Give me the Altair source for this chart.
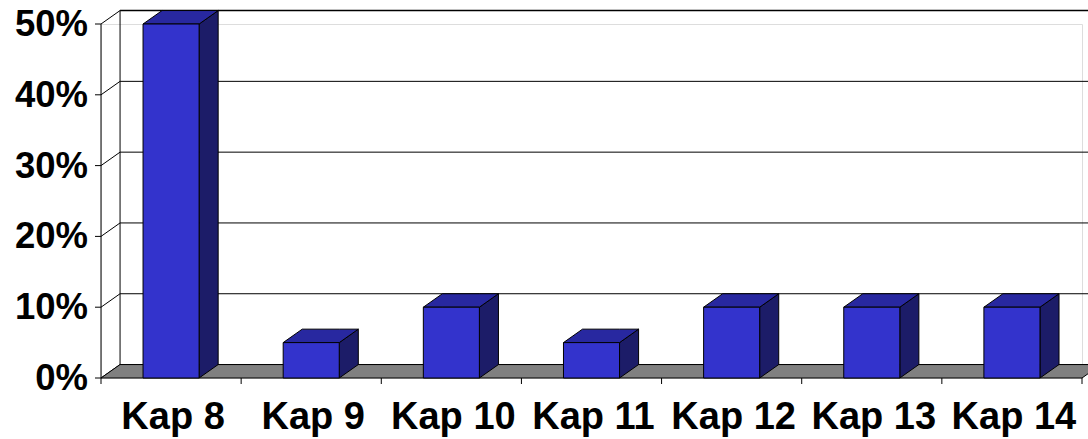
import altair as alt
import pandas as pd

# Chapter shares (percent of answers)
categories = ["Kap 8", "Kap 9", "Kap 10", "Kap 11", "Kap 12", "Kap 13", "Kap 14"]
values = [50, 5, 10, 5, 10, 10, 10]
y_ticks = [0, 10, 20, 30, 40, 50]
y_labels = ["0%", "10%", "20%", "30%", "40%", "50%"]

# 3D look: depth offset of the back plane, in data units
DX = 0.136   # category units
DY = 1.9     # percent units
BAR_LO, BAR_HI = 0.3, 0.7   # bar front face inside each category slot
N = len(categories)
Y_MAX = 50

FRONT = "#3333cc"
TOP = "#2828a0"
SIDE = "#1c1c68"
FLOOR = "#808080"
FONT = "Liberation Sans"

xs = alt.Scale(domain=[0, N], nice=False, zero=False)
ys = alt.Scale(domain=[0, Y_MAX], nice=False, zero=True)


def X(field):
    return alt.X(field, scale=xs, axis=None)


def Y(field):
    return alt.Y(field, scale=ys, axis=None, stack=None)


# ---- back wall gridlines and left wall lines
grid = pd.DataFrame({"y": [t + DY for t in y_ticks], "x": DX, "x2": N + DX,
                     "w": [1.5 if t == Y_MAX else 1 for t in y_ticks]})
back_lines = alt.Chart(grid).mark_rule(color="black").encode(
    x=X("x:Q"), x2="x2:Q", y=Y("y:Q"),
    strokeWidth=alt.StrokeWidth("w:Q", scale=None, legend=None),
)
diag = pd.DataFrame({"x": 0.0, "x2": DX, "y": y_ticks, "y2": [t + DY for t in y_ticks]})
side_lines = alt.Chart(diag).mark_rule(color="black", strokeWidth=1).encode(
    x=X("x:Q"), x2="x2:Q", y=Y("y:Q"), y2="y2:Q",
)
walls = pd.DataFrame({"x": [DX, 0.0], "y": [DY, 0.0], "y2": [Y_MAX + DY, Y_MAX]})
wall_lines = alt.Chart(walls).mark_rule(color="black", strokeWidth=1).encode(
    x=X("x:Q"), y=Y("y:Q"), y2="y2:Q",
)

# ---- floor parallelogram
floor = pd.DataFrame({
    "x": [0, DX, N, N + DX],
    "lo": [0, 0, 0, DY],
    "hi": [0, DY, DY, DY],
})
floor_area = alt.Chart(floor).mark_area(
    color=FLOOR, stroke="black", strokeWidth=1, interpolate="linear", orient="vertical"
).encode(x=X("x:Q"), y=Y("lo:Q"), y2="hi:Q")

# ---- tick marks on the front edges
yt = alt.Chart(pd.DataFrame({"x": 0.0, "y": y_ticks})).mark_rule(
    color="black", strokeWidth=1, x2Offset=-6
).encode(x=X("x:Q"), x2="x:Q", y=Y("y:Q"))
xt = alt.Chart(pd.DataFrame({"x": list(range(N + 1)), "y": 0.0})).mark_rule(
    color="black", strokeWidth=1, y2Offset=6
).encode(x=X("x:Q"), y=Y("y:Q"), y2="y:Q")

# ---- bar faces
fronts, tops, sides = [], [], []
for i, (c, v) in enumerate(zip(categories, values)):
    x0, x1 = i + BAR_LO, i + BAR_HI
    fronts.append({"cat": c, "x0": x0, "x1": x1, "v": v})
    for x, lo, hi in [
        (x0, v, v), (x0 + DX, v, v + DY), (x1, v, v + DY), (x1 + DX, v + DY, v + DY)
    ]:
        tops.append({"cat": c, "x": x, "lo": lo, "hi": hi})
    for x, lo, hi in [(x1, 0, v), (x1 + DX, DY, v + DY)]:
        sides.append({"cat": c, "x": x, "lo": lo, "hi": hi})

side_faces = alt.Chart(pd.DataFrame(sides)).mark_area(
    color=SIDE, stroke="black", strokeWidth=1, interpolate="linear", orient="vertical"
).encode(x=X("x:Q"), y=Y("lo:Q"), y2="hi:Q", detail="cat:N")
top_faces = alt.Chart(pd.DataFrame(tops)).mark_area(
    color=TOP, stroke="black", strokeWidth=1, interpolate="linear", orient="vertical"
).encode(x=X("x:Q"), y=Y("lo:Q"), y2="hi:Q", detail="cat:N")
front_faces = alt.Chart(pd.DataFrame(fronts)).mark_bar(
    color=FRONT, stroke="black", strokeWidth=1
).encode(x=X("x0:Q"), x2="x1:Q", y=Y("v:Q"), y2=alt.datum(0))

# ---- text
ylab = alt.Chart(pd.DataFrame({"x": 0.0, "y": y_ticks, "t": y_labels})).mark_text(
    font=FONT, fontSize=36.5, fontWeight="bold", color="black",
    align="right", baseline="middle", dx=-13, dy=1,
).encode(x=X("x:Q"), y=Y("y:Q"), text="t:N")

xlab = alt.Chart(pd.DataFrame({
    "cat": categories, "x": [i + 0.5 for i in range(N)], "y": 0.0
})).mark_text(
    font=FONT, fontSize=38, fontWeight="bold", color="black",
    baseline="alphabetic", align="center", dx=2, dy=51,
).encode(x=X("x:Q"), y=Y("y:Q"), text="cat:N")

chart = alt.layer(
    back_lines, side_lines, wall_lines, floor_area, yt, xt,
    side_faces, top_faces, front_faces, ylab, xlab,
).properties(
    width=981, height=354,
    autosize=alt.AutoSizeParams(type="none"),
    padding={"left": 101, "top": 24, "right": 6, "bottom": 61},
).configure_view(strokeWidth=0).configure(background="white")

chart.save("out.html", embed_options={"renderer": "svg", "actions": False})
